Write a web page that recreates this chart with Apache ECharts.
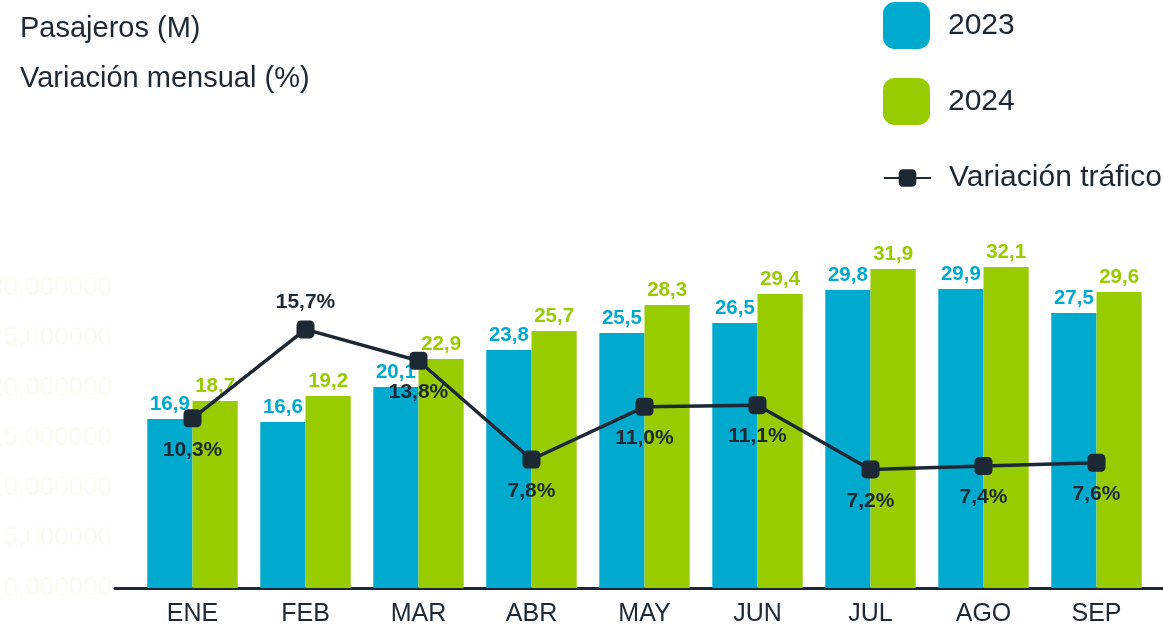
<!DOCTYPE html>
<html>
<head>
<meta charset="utf-8">
<script src="https://cdn.jsdelivr.net/npm/echarts@6/dist/echarts.min.js"></script>
<style>
  html, body { margin: 0; padding: 0; background: #fff; }
  #chart { width: 1163px; height: 627px; }
</style>
</head>
<body>
<div id="chart"></div>
<script>
const months = ['ENE', 'FEB', 'MAR', 'ABR', 'MAY', 'JUN', 'JUL', 'AGO', 'SEP'];
const pax2023 = [16.9, 16.6, 20.1, 23.8, 25.5, 26.5, 29.8, 29.9, 27.5];
const pax2024 = [18.7, 19.2, 22.9, 25.7, 28.3, 29.4, 31.9, 32.1, 29.6];
const variacion = [10.3, 15.7, 13.8, 7.8, 11.0, 11.1, 7.2, 7.4, 7.6];

const azul = '#00aacf';
const verde = '#99cc00';
const oscuro = '#1c2833';
const fuente = '"Liberation Sans", Arial, sans-serif';

const coma = (v, d) => v.toFixed(d).replace('.', ',');

const chart = echarts.init(document.getElementById('chart'));

const option = {
    backgroundColor: '#fff',
    animation: false,
    textStyle: { fontFamily: fuente },
    title: [
        { text: 'Pasajeros (M)', left: 20, top: 14, padding: 0, textStyle: { fontSize: 29, fontWeight: 'normal', color: oscuro, fontFamily: fuente } },
        { text: 'Variación mensual (%)', left: 20, top: 64, padding: 0, textStyle: { fontSize: 29, fontWeight: 'normal', color: oscuro, fontFamily: fuente } }
    ],
    legend: [
        {
            data: ['2023', '2024'],
            orient: 'vertical',
            left: 883,
            top: 2,
            padding: 0,
            itemWidth: 47,
            itemHeight: 47,
            itemGap: 29,
            icon: 'roundRect',
            textStyle: { fontSize: 30, color: oscuro, padding: [0, 0, 0, 13], fontFamily: fuente }
        },
        {
            data: ['Variación tráfico'],
            left: 883,
            top: 163,
            padding: 0,
            itemWidth: 47,
            itemHeight: 22,
            textStyle: { fontSize: 30, color: oscuro, padding: [0, 0, 0, 13], fontFamily: fuente }
        }
    ],
    grid: [
        { left: 136, right: 10, top: 238, bottom: 39, outerBoundsMode: 'none' },
        { left: 115, right: 0, top: 238, bottom: 39, outerBoundsMode: 'none' }
    ],
    xAxis: [
        {
            type: 'category',
            data: months,
            gridIndex: 0,
            axisLine: { show: false },
            axisTick: { show: false },
            axisLabel: { fontSize: 25, color: oscuro, margin: 14, fontFamily: fuente }
        },
        {
            // línea base que se extiende más allá de las categorías
            type: 'value',
            gridIndex: 1,
            min: 0,
            max: 1,
            axisLine: { show: true, lineStyle: { color: oscuro, width: 3 } },
            axisTick: { show: false },
            axisLabel: { show: false },
            splitLine: { show: false }
        }
    ],
    yAxis: [
        {
            type: 'value',
            gridIndex: 0,
            min: 0,
            max: 35,
            interval: 5,
            axisLine: { show: false },
            axisTick: { show: false },
            splitLine: { show: false },
            axisLabel: {
                showMaxLabel: false,
                margin: 24,
                fontSize: 26,
                color: '#fcfcf4',
                fontFamily: fuente,
                formatter: v => coma(v, 6)
            }
        },
        {
            type: 'value',
            gridIndex: 0,
            min: 0,
            max: 21.25,
            show: false
        },
        {
            type: 'value',
            gridIndex: 1,
            show: false
        }
    ],
    series: [
        {
            name: '2023',
            type: 'bar',
            data: pax2023,
            barGap: '0%',
            barCategoryGap: '20%',
            itemStyle: { color: azul },
            label: {
                show: true,
                position: 'top',
                distance: 4,
                color: azul,
                fontSize: 20.5,
                fontWeight: 'bold',
                fontFamily: fuente,
                formatter: p => coma(p.value, 1)
            }
        },
        {
            name: '2024',
            type: 'bar',
            data: pax2024,
            itemStyle: { color: verde },
            label: {
                show: true,
                position: 'top',
                distance: 4,
                color: verde,
                fontSize: 20.5,
                fontWeight: 'bold',
                fontFamily: fuente,
                formatter: p => coma(p.value, 1)
            }
        },
        {
            name: 'Variación tráfico',
            type: 'line',
            yAxisIndex: 1,
            // solo la etiqueta de febrero va encima del punto
            data: variacion.map((v, i) => i === 1 ? { value: v, label: { position: 'top', distance: 8 } } : v),
            symbol: 'roundRect',
            symbolSize: 18,
            z: 5,
            lineStyle: { color: oscuro, width: 3.5 },
            itemStyle: { color: oscuro },
            label: {
                show: true,
                position: 'bottom',
                distance: 12,
                color: oscuro,
                fontSize: 21,
                fontWeight: 'bold',
                fontFamily: fuente,
                formatter: p => coma(p.value, 1) + '%'
            }
        }
    ]
};

chart.setOption(option);
</script>
</body>
</html>
